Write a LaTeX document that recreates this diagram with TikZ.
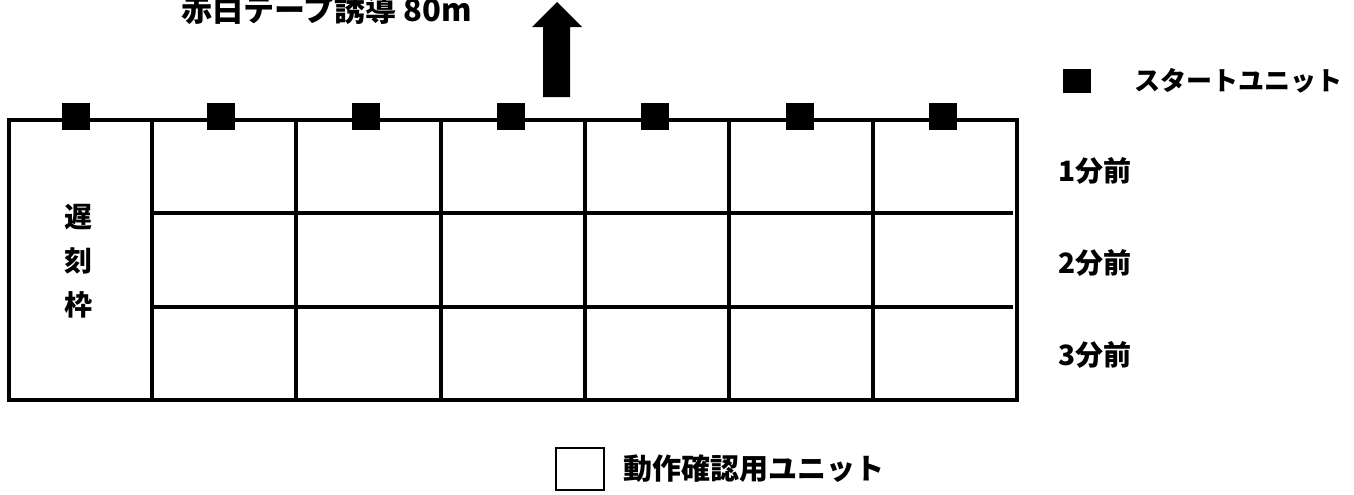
\documentclass[tikz,border=0pt]{standalone}
\usepackage{fontspec}
\newfontfamily\jp{Noto Sans CJK JP}
\usetikzlibrary{positioning}

\begin{document}
\begin{tikzpicture}[x=0.5pt, y=-0.5pt, line width=1.6pt,
  unit/.style={rectangle, fill=black, inner sep=0pt, minimum width=14pt, minimum height=13.5pt},
  testunit/.style={rectangle, draw, line width=1.4pt, inner sep=0pt, minimum width=24pt, minimum height=21pt},
  lbl/.style={font=\jp\bfseries\fontsize{14}{17}\selectfont, inner sep=0pt}]
\useasboundingbox (0,0) rectangle (1354,494);
% Grid
\draw (9,120) rectangle (1017,400);
\draw (152,120) -- (152,400);
\draw (296,120) -- (296,400);
\draw (441,120) -- (441,400);
\draw (585,120) -- (585,400);
\draw (729,120) -- (729,400);
\draw (873,120) -- (873,400);
\draw (152,213) -- (1013,213);
\draw (152,307) -- (1013,307);
% Start units
\node[unit] (u1) at (76,116) {};
\node[unit] (u2) at (221,116) {};
\node[unit] (u3) at (366,116) {};
\node[unit] (u4) at (511,116) {};
\node[unit] (u5) at (655,116) {};
\node[unit] (u6) at (800,116) {};
\node[unit] (u7) at (943,116) {};
% Arrow
\fill (543,97) -- (543,27) -- (532,27) -- (557,2) -- (582,27) -- (570,27) -- (570,97) -- cycle;
% Labels
\node[lbl, anchor=base, font=\jp\bfseries\fontsize{15.5}{18}\selectfont] (title) at (327,21) {赤白テープ誘導 80m};
\node[lbl, align=center, font=\jp\bfseries\fontsize{14}{22}\selectfont] (late) at (78,261) {遅\\刻\\枠};
\node[lbl, anchor=west] (m1) at (1057,171) {1分前};
\node[lbl, anchor=west] (m2) at (1057,263) {2分前};
\node[lbl, anchor=west] (m3) at (1057,355) {3分前};
% Legend
\node[unit, minimum height=12pt] (key1) at (1077,81) {};
\node[lbl, right=20pt of key1, font=\jp\bfseries\fontsize{13}{16}\selectfont] (key1txt) {スタートユニット};
\node[testunit] (key2) at (580,469) {};
\node[lbl, right=8pt of key2, font=\jp\bfseries\fontsize{14.5}{17}\selectfont] (key2txt) {動作確認用ユニット};
\end{tikzpicture}
\end{document}
